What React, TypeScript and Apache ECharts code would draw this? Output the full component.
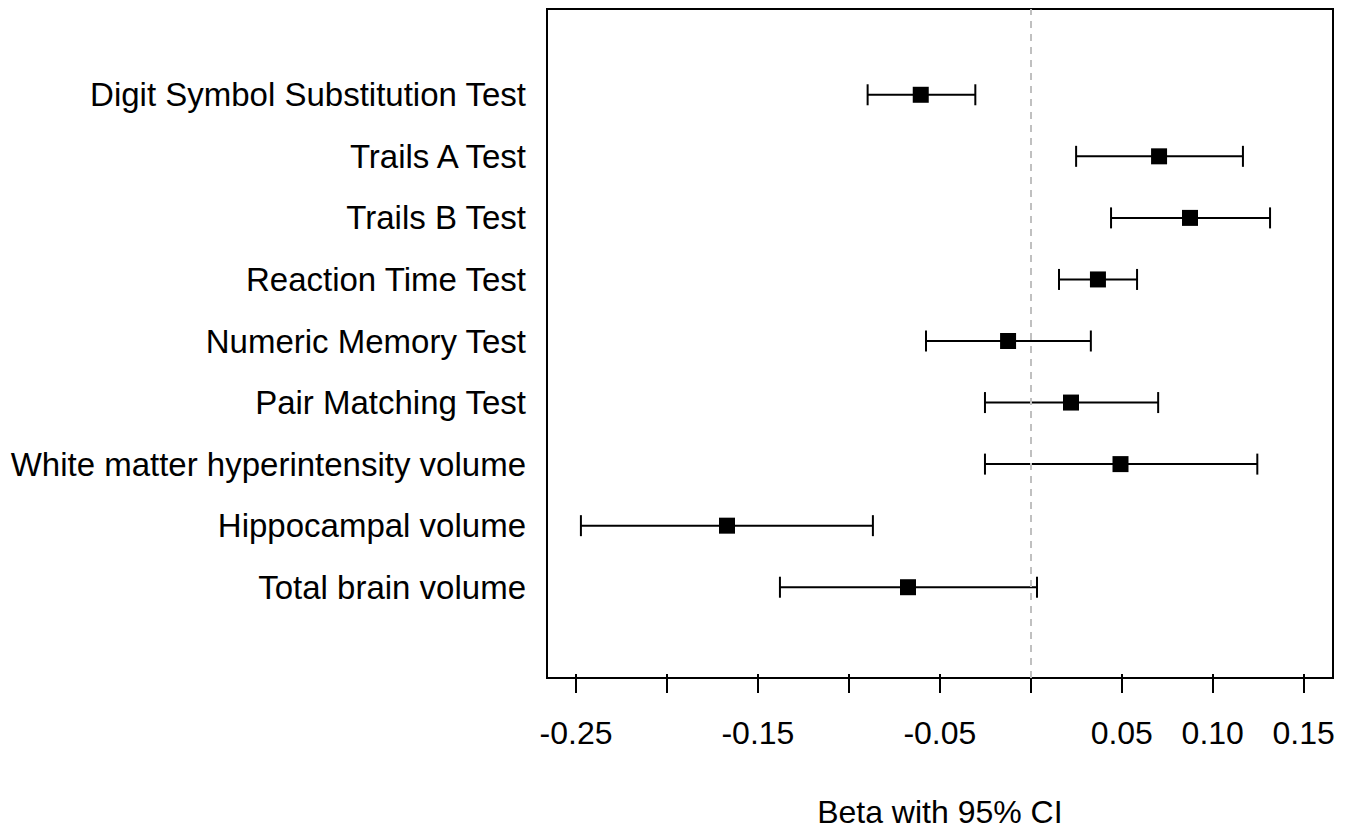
import React, { useEffect, useRef } from "react";
import * as echarts from "echarts";

const labels = [
  "Digit Symbol Substitution Test",
  "Trails A Test",
  "Trails B Test",
  "Reaction Time Test",
  "Numeric Memory Test",
  "Pair Matching Test",
  "White matter hyperintensity volume",
  "Hippocampal volume",
  "Total brain volume",
];
const beta = [-0.0605, 0.0705, 0.0875, 0.0369, -0.0125, 0.0221, 0.0493, -0.167, -0.0675];
const lower = [-0.0897, 0.0249, 0.0441, 0.0155, -0.0576, -0.0252, -0.0252, -0.2473, -0.1379];
const upper = [-0.0305, 0.1166, 0.1315, 0.0584, 0.033, 0.07, 0.1245, -0.0868, 0.0034];
const xTickLabels = ["-0.25", "-0.15", "-0.05", "0.05", "0.10", "0.15"];
const xMin = -0.25;
const xMax = 0.15;
const xStep = 0.05;
const refValue = 0;

const W = 1355;
const H = 833;
// inner data grid
const gL = 576, gR = 1303.7, gT = 64, gB = 622;
// outer box
const bL = 547, bR = 1333, bT = 9, bB = 678;

export default function App() {
  const ref = useRef<HTMLDivElement>(null);
  useEffect(() => {
    document.body.style.margin = "0";
    if (!ref.current) return;
    const chart = echarts.init(ref.current, null, { renderer: "svg" });
    const pxPerUnit = (gR - gL) / (xMax - xMin);
    const boxMin = xMin - (gL - bL) / pxPerUnit;
    const boxMax = xMax + (bR - gR) / pxPerUnit;
    const font = "'Liberation Sans', Arial, Helvetica, sans-serif";

    const errData = labels.map((_, i) => [lower[i], upper[i], i]);
    const ptData = labels.map((_, i) => [beta[i], i]);

    chart.setOption({
      animation: false,
      textStyle: { fontFamily: font },
      grid: [
        {
          left: gL,
          width: gR - gL,
          top: gT,
          height: gB - gT,
          containLabel: false,
        },
        {
          left: bL,
          width: bR - bL,
          top: bT,
          height: bB - bT,
          show: true,
          borderColor: "#000",
          borderWidth: 2,
          backgroundColor: "transparent",
          containLabel: false,
        },
      ],
      xAxis: [
        {
          type: "value",
          gridIndex: 0,
          min: xMin,
          max: xMax,
          interval: xStep,
          offset: bB - gB,
          axisLine: { show: false },
          axisTick: { show: true, length: 19, lineStyle: { color: "#000", width: 2 } },
          splitLine: { show: false },
          axisLabel: {
            margin: 43,
            fontSize: 32,
            color: "#000",
            fontFamily: font,
            formatter: (v: number) => {
              const s = v.toFixed(2);
              return xTickLabels.includes(s) ? s : "";
            },
          },
          name: "Beta with 95% CI",
          nameLocation: "middle",
          nameGap: 122,
          nameTextStyle: { fontSize: 32, color: "#000", fontFamily: font },
        },
        {
          type: "value",
          gridIndex: 1,
          min: boxMin,
          max: boxMax,
          show: false,
        },
      ],
      yAxis: [
        {
          type: "category",
          gridIndex: 0,
          data: labels,
          inverse: true,
          axisLine: { show: false },
          axisTick: { show: false },
          splitLine: { show: false },
          axisLabel: {
            margin: gL - 526,
            fontSize: 33,
            color: "#000",
            fontFamily: font,
          },
        },
        {
          type: "value",
          gridIndex: 1,
          min: 0,
          max: 1,
          show: false,
        },
      ],
      series: [
        {
          type: "line",
          xAxisIndex: 1,
          yAxisIndex: 1,
          data: [[refValue, 0.5]],
          showSymbol: false,
          symbol: "none",
          lineStyle: { opacity: 0 },
          silent: true,
          markLine: {
            silent: true,
            symbol: ["none", "none"],
            label: { show: false },
            lineStyle: { color: "#c0c0c0", width: 2, type: [7, 6] },
            data: [{ xAxis: refValue }],
          },
        },
        {
          type: "custom",
          xAxisIndex: 0,
          yAxisIndex: 0,
          encode: { x: [0, 1], y: 2 },
          data: errData,
          z: 3,
          renderItem: (params: any, api: any) => {
            const y = api.value(2);
            const p0 = api.coord([api.value(0), y]);
            const p1 = api.coord([api.value(1), y]);
            const cap = 10.5;
            const st = { stroke: "#000", lineWidth: 2 };
            return {
              type: "group",
              children: [
                { type: "line", shape: { x1: p0[0], y1: p0[1], x2: p1[0], y2: p1[1] }, style: st },
                { type: "line", shape: { x1: p0[0], y1: p0[1] - cap, x2: p0[0], y2: p0[1] + cap }, style: st },
                { type: "line", shape: { x1: p1[0], y1: p1[1] - cap, x2: p1[0], y2: p1[1] + cap }, style: st },
              ],
            };
          },
        },
        {
          type: "scatter",
          xAxisIndex: 0,
          yAxisIndex: 0,
          data: ptData,
          symbol: "rect",
          symbolSize: 16,
          itemStyle: { color: "#000", opacity: 1 },
          z: 4,
        },
      ],
    });
    return () => chart.dispose();
  }, []);
  return <div ref={ref} style={{ width: W, height: H }} />;
}
